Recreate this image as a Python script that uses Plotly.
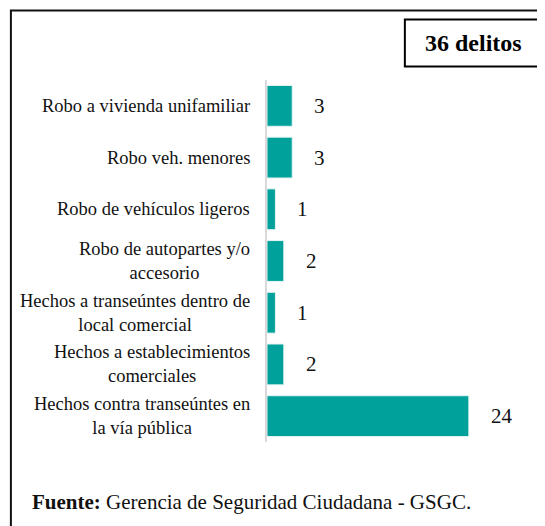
import plotly.graph_objects as go

# ---- data ----
categories = [
    "Robo a vivienda unifamiliar",
    "Robo veh. menores",
    "Robo de vehículos ligeros",
    "Robo de autopartes y/o<br>accesorio",
    "Hechos a transeúntes dentro de<br>local comercial",
    "Hechos a establecimientos<br>comerciales",
    "Hechos contra transeúntes en<br>la vía pública",
]
values = [3, 3, 1, 2, 1, 2, 24]
total_label = "36 delitos"
source_bold = "Fuente:"
source_text = " Gerencia de Seguridad Ciudadana - GSGC."

# ---- layout geometry (page has an 8px body margin) ----
OFF = 8
W, H = 545, 526
PLOT_LEFT, PLOT_TOP, PLOT_BOTTOM = 267.3, 80, 442.5
ML = PLOT_LEFT - OFF
MT = PLOT_TOP - OFF
MB = H - (PLOT_BOTTOM - OFF)
MR = 30
PW = W - ML - MR
PH = H - MT - MB
PX_PER_UNIT = 8.4


def px(x):
    return (x - OFF - ML) / PW


def py(y):
    return (H - MB - (y - OFF)) / PH


FONT = "Liberation Serif, Times New Roman, serif"
BAR_COLOR = "#00A19A"

fig = go.Figure()
fig.add_trace(go.Bar(
    x=values,
    y=categories,
    orientation="h",
    marker=dict(color=BAR_COLOR, line=dict(color="#e6f4f3", width=1)),
    hoverinfo="skip",
))

annotations = []
# category labels (centered multi-line, right-anchored)
for c in categories:
    annotations.append(dict(
        x=0, xref="paper", y=c, yref="y",
        text=c, showarrow=False, xanchor="right", yanchor="middle",
        align="center", xshift=-15,
        font=dict(family=FONT, size=18.5, color="#111111"),
    ))
# value labels
for c, v in zip(categories, values):
    annotations.append(dict(
        x=v, xref="x", y=c, yref="y",
        text=str(v), showarrow=False, xanchor="left", yanchor="middle",
        xshift=20,
        font=dict(family=FONT, size=21, color="#111111"),
    ))
# total box text
annotations.append(dict(
    x=px(473.8), xref="paper", y=py(43), yref="paper",
    text="<b>" + total_label + "</b>", showarrow=False,
    xanchor="center", yanchor="middle",
    font=dict(family=FONT, size=24, color="#000000"),
))
# source
annotations.append(dict(
    x=px(31), xref="paper", y=py(503), yref="paper",
    text="<b>" + source_bold + "</b>" + source_text, showarrow=False,
    xanchor="left", yanchor="middle",
    font=dict(family=FONT, size=21, color="#111111"),
))

shapes = [
    # outer frame
    dict(type="rect", xref="paper", yref="paper",
         x0=px(11.5), x1=px(600), y0=py(10.5), y1=py(600),
         line=dict(color="#111111", width=2), fillcolor="rgba(0,0,0,0)", layer="above"),
    # total box
    dict(type="rect", xref="paper", yref="paper",
         x0=px(405), x1=px(542.5), y0=py(19.5), y1=py(66.5),
         line=dict(color="#000000", width=2), fillcolor="rgba(0,0,0,0)", layer="above"),
]

fig.update_layout(
    width=W, height=H,
    margin=dict(l=ML, r=MR, t=MT, b=MB, autoexpand=False),
    paper_bgcolor="white", plot_bgcolor="white",
    showlegend=False,
    bargap=0.21,
    xaxis=dict(range=[0, PW / PX_PER_UNIT], visible=False, showgrid=False, zeroline=False),
    yaxis=dict(autorange="reversed", showticklabels=False, showgrid=False, zeroline=False,
               showline=True, linecolor="#d9d9d9", linewidth=1.5, ticks=""),
    annotations=annotations,
    shapes=shapes,
    font=dict(family=FONT),
)

fig.write_html("out.html")
